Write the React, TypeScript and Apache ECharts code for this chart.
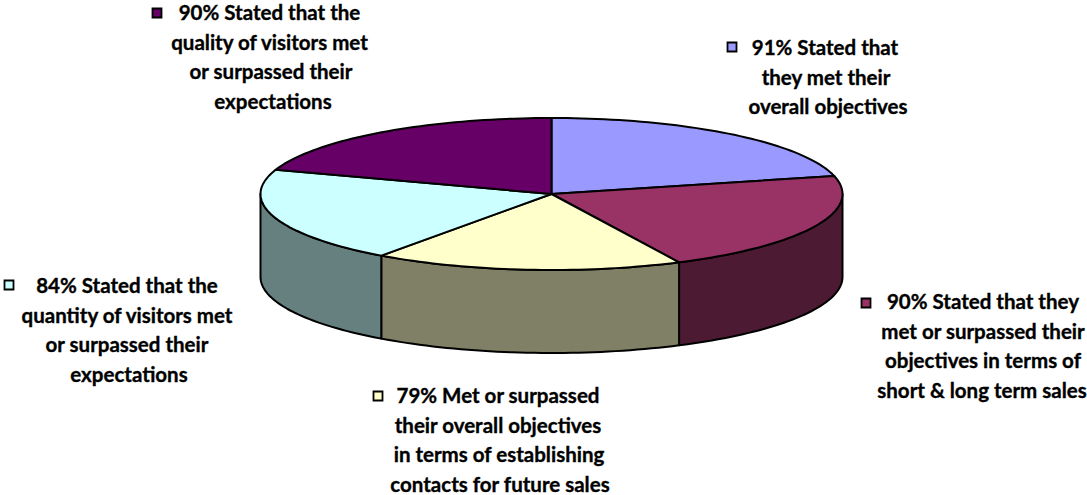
import React, { useEffect, useRef } from "react";
import * as echarts from "echarts";

// Order: clockwise from 12 o'clock.
const sliceNames = ["Overall objectives", "Sales objectives", "Contacts", "Quantity of visitors", "Quality of visitors"];
const statedPercents = [91, 90, 79, 84, 90];
// Sweep of each slice in degrees, as measured on the picture.
const sliceSweeps = [76.3, 77.7, 61.8, 72.8, 71.4];
const topColors = ["#9999FF", "#993366", "#FFFFCC", "#CCFFFF", "#660066"];
const sideColors = ["#4D4D80", "#4D1A33", "#808066", "#668080", "#330033"];
const labelLines = [
  ["91% Stated that", "they met their", "overall objectives"],
  ["90% Stated that they", "met or surpassed their", "objectives in terms of", "short & long term sales"],
  ["79% Met or surpassed", "their overall objectives", "in terms of establishing", "contacts for future sales"],
  ["84% Stated that the", "quantity of visitors met", "or surpassed their", "expectations"],
  ["90% Stated that the", "quality of visitors met", "or surpassed their", "expectations"],
];

const CX = 551.5, CY = 194, RX = 291, RY = 76, DEPTH = 83;
const LINE_CENTERS = [
  [825, 826, 828],
  [983, 983, 983, 982],
  [498, 498, 499, 500],
  [127, 127, 127, 129],
  [269.5, 269.5, 271, 273],
];
const LINE_TOPS = [47, 301, 395, 285, 12];
const LINE_STEP = 29.6;
const MARKERS = [[732, 47], [866, 303], [378, 396], [9, 285], [157, 13]];
const FONT = "bold 20.5px Lato";

const deg = Math.PI / 180;
const pt = (a: number, dy = 0): number[] => [CX + RX * Math.sin(a * deg), CY - RY * Math.cos(a * deg) + dy];
const arc = (a0: number, a1: number, dy = 0): number[][] => {
  const n = Math.max(2, Math.ceil(Math.abs(a1 - a0) / 1.5));
  const out: number[][] = [];
  for (let i = 0; i <= n; i++) out.push(pt(a0 + ((a1 - a0) * i) / n, dy));
  return out;
};
const starts = sliceSweeps.map((_, i) => sliceSweeps.slice(0, i).reduce((s, v) => s + v, 0));

export default function App() {
  const ref = useRef<HTMLDivElement>(null);
  useEffect(() => {
    document.body.style.margin = "0";
    const chart = echarts.init(ref.current!, undefined, { renderer: "svg" });
    const stroke = { stroke: "#000", lineWidth: 2, lineJoin: "round" };
    const data = sliceNames.map((name, i) => ({ name, value: [sliceSweeps[i], statedPercents[i]] }));

    const graphic: any[] = [];
    labelLines.forEach((lines, i) => {
      graphic.push({
        type: "rect",
        shape: { x: MARKERS[i][0] - 4.5, y: MARKERS[i][1] - 4.5, width: 9, height: 9 },
        style: { fill: topColors[i], stroke: "#000", lineWidth: 1.8 },
      });
      lines.forEach((line, j) => {
        graphic.push({
          type: "text",
          x: LINE_CENTERS[i][j],
          y: LINE_TOPS[i] + j * LINE_STEP,
          style: {
            text: line,
            font: FONT,
            fill: "#000",
            stroke: "#000",
            lineWidth: 0.35,
            textAlign: "center",
            textVerticalAlign: "middle",
          },
        });
      });
    });

    chart.setOption({
      animation: false,
      backgroundColor: "#fff",
      graphic,
      series: [
        {
          type: "custom",
          coordinateSystem: "none",
          silent: true,
          z: 1,
          data,
          renderItem: (params: any) => {
            const i = params.dataIndex;
            const a0 = Math.max(starts[i], 90);
            const a1 = Math.min(starts[i] + sliceSweeps[i], 270);
            if (a1 <= a0) return { type: "group", children: [] };
            const points = [...arc(a0, a1), ...arc(a1, a0, DEPTH)];
            return { type: "polygon", shape: { points }, style: { fill: sideColors[i], ...stroke } };
          },
        },
        {
          type: "custom",
          coordinateSystem: "none",
          silent: true,
          z: 2,
          data,
          renderItem: (params: any) => {
            const i = params.dataIndex;
            const points = [[CX, CY], ...arc(starts[i], starts[i] + sliceSweeps[i])];
            return { type: "polygon", shape: { points }, style: { fill: topColors[i], ...stroke } };
          },
        },
      ],
    });
    return () => chart.dispose();
  }, []);
  return <div ref={ref} style={{ width: 1087, height: 495 }} />;
}
